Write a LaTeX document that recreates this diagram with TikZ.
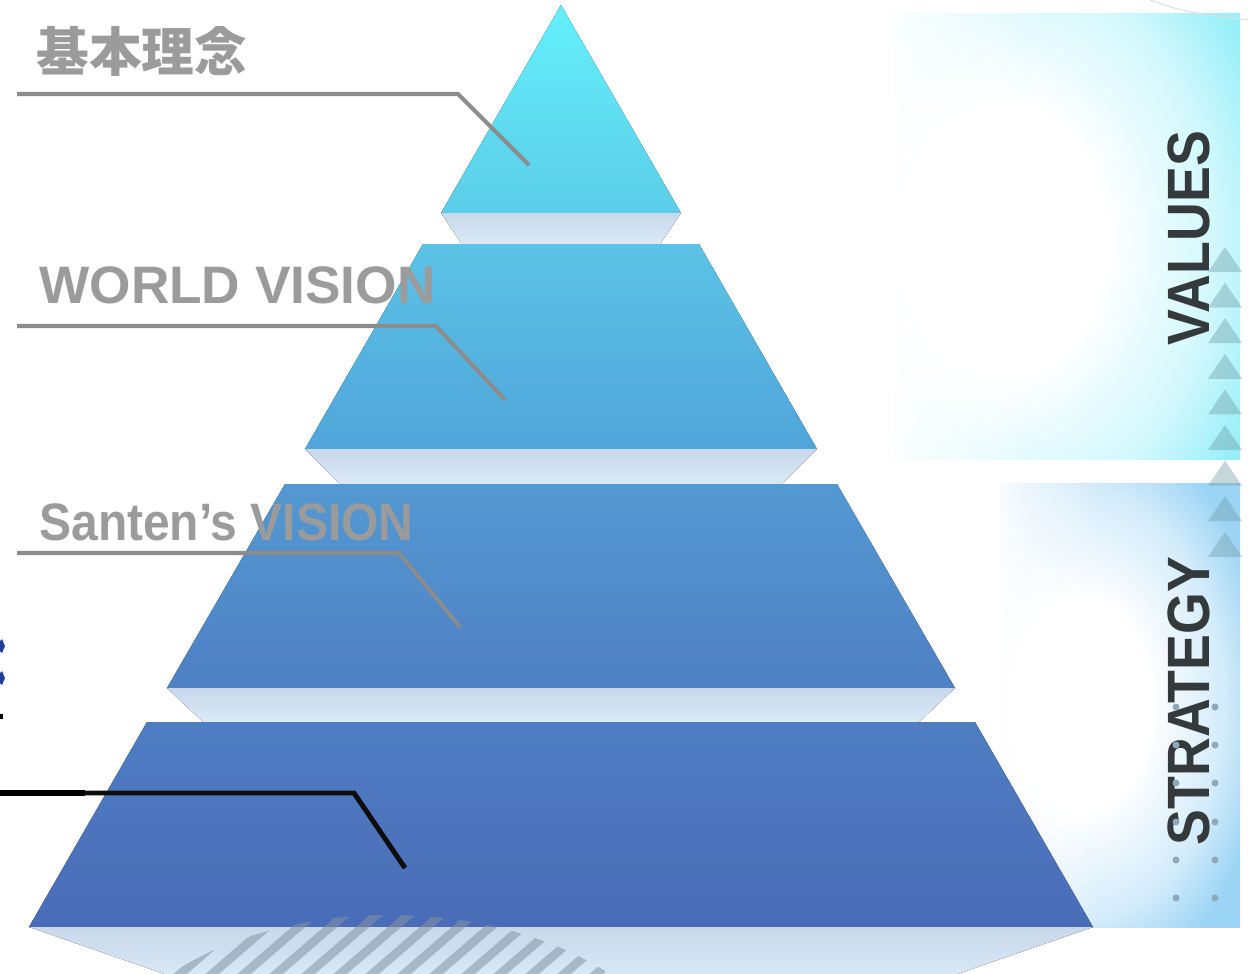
\documentclass[tikz,border=0pt]{standalone}
\usepackage{fontspec}
\setmainfont{Liberation Sans}
\newfontfamily\cjk{Noto Sans CJK JP}
\usetikzlibrary{calc,fadings}
\definecolor{labelgray}{HTML}{9B9B9B}
\definecolor{leadgray}{HTML}{8C8C8C}
\definecolor{darktxt}{HTML}{34393B}
\definecolor{aTop}{HTML}{64F0FB}
\definecolor{aBot}{HTML}{5BCDE9}
\definecolor{bTop}{HTML}{5BC3E6}
\definecolor{bBot}{HTML}{50A5DA}
\definecolor{cTop}{HTML}{5399D2}
\definecolor{cBot}{HTML}{4F80C4}
\definecolor{dTop}{HTML}{4E7DC2}
\definecolor{dBot}{HTML}{4A6CB8}
\definecolor{bandT}{HTML}{C9D7EB}
\definecolor{bandB}{HTML}{DAEAF6}
\definecolor{valC}{HTML}{98EFF9}
\definecolor{strC}{HTML}{9CD4F5}
\definecolor{triC}{HTML}{6E9CA6}
\definecolor{dotC}{HTML}{8FA9BA}
\definecolor{hatchC}{HTML}{8494A3}
\definecolor{diaC}{HTML}{1F3C99}
% drawn ellipse = 2 x nominal radius; 12.5bp = nominal radius
\pgfdeclareradialshading{valrad}{\pgfpoint{0bp}{0bp}}{color(0bp)=(white); color(4.4bp)=(white); color(9bp)=(valC!45!white); color(11.9bp)=(valC); color(50bp)=(valC)}
\pgfdeclareradialshading{strrad}{\pgfpoint{0bp}{0bp}}{color(0bp)=(white); color(4.4bp)=(white); color(9bp)=(strC!45!white); color(11.9bp)=(strC); color(50bp)=(strC)}
\begin{document}
\begin{tikzpicture}[x=0.02cm,y=-0.02cm,
  lbl/.style={text=labelgray, font=\fontsize{30}{36}\selectfont\bfseries, inner sep=0pt, anchor=base west},
  sidelbl/.style={text=darktxt, font=\fontsize{34}{40}\selectfont\bfseries, inner sep=0pt, rotate=90},
  leader/.style={draw=leadgray, line width=2.3pt},
  blackleader/.style={draw=black!95, line width=2.8pt},
  band/.style={top color=bandT, bottom color=bandB},
  tri/.style={fill=triC, fill opacity=0.4},
  dotmark/.style={fill=dotC},
  hatchline/.style={draw=hatchC, draw opacity=0.55, line width=5pt}
]
\useasboundingbox (0,0) rectangle (1248,974);
\fill[white] (0,0) rectangle (1248,974);

% side panels
\begin{scope}
  \clip (893,13) rectangle (1240,459);
  \shade[shading=valrad] (1000,240) ellipse [x radius=600, y radius=770];
  \fill[white, path fading=east] (880,0) rectangle (1030,470);
\end{scope}
\begin{scope}
  \clip (1000,483) rectangle (1240,927);
  \shade[shading=strrad] (1080,705) ellipse [x radius=400, y radius=600];
  \fill[white, path fading=east] (990,470) rectangle (1100,940);
\end{scope}
\draw[gray!25, line width=0.6pt] (1150,0) .. controls (1185,12) .. (1248,20);

% pyramid layers
\fill[top color=aTop, bottom color=aBot] (561,5) -- (681,213) -- (441,213) -- cycle;
\fill[band] (441,213) -- (681,213) -- (661,243) -- (461,243) -- cycle;
\fill[top color=bTop, bottom color=bBot] (423,244) -- (699,244) -- (817,449) -- (305,449) -- cycle;
\fill[band] (305,449) -- (817,449) -- (783,483) -- (339,483) -- cycle;
\fill[top color=cTop, bottom color=cBot] (285,484) -- (837,484) -- (955,688) -- (167,688) -- cycle;
\fill[band] (167,688) -- (955,688) -- (919,722) -- (203,722) -- cycle;
\fill[top color=dTop, bottom color=dBot] (147,722) -- (975,722) -- (1093,927) -- (29,927) -- cycle;
\fill[band] (29,927) -- (1093,927) -- (940,980) -- (182,980) -- cycle;

% hatch stripes
\begin{scope}
  \clip (390,1100) ellipse [x radius=300, y radius=185];
  \foreach \i in {0,...,16} {
    \draw[hatchline] ($(150,1000)+(\i*32,0)$) -- ++(110,-95);
  }
\end{scope}

% side texts
\node[sidelbl] (values) at (1189,238) {\scalebox{0.9}[1]{VALUES}};
\node[sidelbl] (strategy) at (1189,701) {\scalebox{0.9}[1]{STRATEGY}};

% triangles
\foreach \k in {0,...,8} {
  \fill[tri] (1208,{272+35.6*\k}) -- (1242,{272+35.6*\k}) -- (1225,{247+35.6*\k}) -- cycle;
}
% dots
\foreach \yy in {707,745,783,822,860,898} {
  \fill[dotmark] (1176,\yy) circle[radius=3.5];
  \fill[dotmark] (1215,\yy) circle[radius=3.5];
}

% left edge fragments
\fill[diaC] (-5,646) -- (2,639) -- (5,646) -- (2,653) -- cycle;
\fill[diaC] (-5,678) -- (2,671) -- (5,678) -- (2,685) -- cycle;
\fill[black] (0,714) rectangle (3,719);

% labels
\node[lbl, font=\fontsize{30}{36}\selectfont\cjk\bfseries] (l1) at (36,71) {基本理念};
\node[lbl] (l2) at (39,303) {\scalebox{1.01}[1]{WORLD VISION}};
\node[lbl] (l3) at (39,540) {\scalebox{0.91}[1]{Santen’s VISION}};

% leader lines
\coordinate (a1) at (17,94);  \coordinate (b1) at (458,94);  \coordinate (c1) at (529,165);
\coordinate (a2) at (17,326); \coordinate (b2) at (436,326); \coordinate (c2) at (505,400);
\coordinate (a3) at (17,553); \coordinate (b3) at (399,553); \coordinate (c3) at (460,627);
\coordinate (a4) at (0,793);  \coordinate (b4) at (354,793); \coordinate (c4) at (405,868);
\coordinate (a4e) at (85,793);
\draw[leader] (a1) -- (b1) -- (c1);
\draw[leader] (a2) -- (b2) -- (c2);
\draw[leader] (a3) -- (b3) -- (c3);
\draw[blackleader] (a4) -- (b4) -- (c4);
\draw[black, line width=3.3pt] (a4) -- (a4e);
\end{tikzpicture}
\end{document}
